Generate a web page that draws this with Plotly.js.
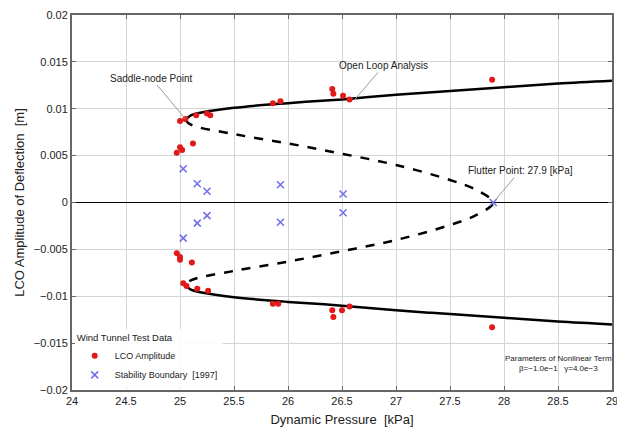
<!DOCTYPE html>
<html>
<head>
<meta charset="utf-8">
<script src="https://cdn.plot.ly/plotly-3.0.1.min.js"></script>
<style>html,body{margin:0;padding:0;background:#fff;}#chart{width:617px;height:428px;}</style>
</head>
<body>
<div id="chart"></div>
<script>
// Open loop analysis — stable LCO branch (solid), upper and lower
const stableQ = [25.05, 25.1, 25.2, 25.5, 26.0, 26.5, 27.0, 27.5, 28.0, 28.5, 29.0];
const stableUpper = [0.0088, 0.0093, 0.0096, 0.0101, 0.0106, 0.0110, 0.0115, 0.0119, 0.0123, 0.0127, 0.0130];
const stableLower = [-0.0088, -0.0093, -0.0096, -0.0101, -0.0106, -0.0110, -0.0115, -0.0119, -0.0123, -0.0127, -0.0130];
// Unstable branch (dashed), from upper saddle-node through flutter point to lower saddle-node
const unstableQ = [25.05, 25.1, 25.5, 26.0, 26.5, 27.0, 27.5, 27.75, 27.9, 27.75, 27.5, 27.0, 26.5, 26.0, 25.5, 25.1, 25.05];
const unstableA = [0.0088, 0.0083, 0.0073, 0.0063, 0.0052, 0.0040, 0.0024, 0.0013, 0.0, -0.0013, -0.0024, -0.0040, -0.0052, -0.0063, -0.0073, -0.0083, -0.0088];
// Wind tunnel test data: LCO amplitude
const lcoQ = [25.0, 25.05, 25.15, 25.25, 25.28, 24.97, 25.0, 25.02, 25.12, 25.86, 25.93, 26.41, 26.42, 26.51, 26.57, 27.89,
              24.97, 25.0, 25.0, 25.11, 25.03, 25.06, 25.16, 25.26, 25.86, 25.91, 26.41, 26.42, 26.5, 26.57, 27.89];
const lcoA = [0.0087, 0.0089, 0.0093, 0.0095, 0.0093, 0.0053, 0.0059, 0.0056, 0.0063, 0.0106, 0.0108, 0.0121, 0.0116, 0.0114, 0.0110, 0.0131,
              -0.0054, -0.0058, -0.0061, -0.0064, -0.0086, -0.0089, -0.0092, -0.0094, -0.0108, -0.0108, -0.0115, -0.0122, -0.0115, -0.0111, -0.0133];
// Wind tunnel test data: stability boundary [1997]
const stabQ = [25.03, 25.16, 25.25, 25.93, 26.51, 25.03, 25.16, 25.25, 25.93, 26.51, 27.9];
const stabA = [0.0036, 0.0020, 0.0012, 0.0019, 0.0009, -0.0038, -0.0022, -0.0014, -0.0021, -0.0011, 0.0];
// Axis ticks
const xTicks = [24, 24.5, 25, 25.5, 26, 26.5, 27, 27.5, 28, 28.5, 29];
const xTickText = ['24', '24.5', '25', '25.5', '26', '26.5', '27', '27.5', '28', '28.5', '29'];
const yTicks = [-0.02, -0.015, -0.01, -0.005, 0, 0.005, 0.01, 0.015, 0.02];
const yTickText = ['\u22120.02', '\u22120.015', '\u22120.01', '\u22120.005', '0', '0.005', '0.01', '0.015', '0.02'];

const FONT = 'Liberation Sans, Arial, sans-serif';

const traces = [
  {x: stableQ, y: stableUpper, mode: 'lines', line: {color: '#000', width: 2.5, shape: 'spline'}, showlegend: false, hoverinfo: 'skip'},
  {x: stableQ, y: stableLower, mode: 'lines', line: {color: '#000', width: 2.5, shape: 'spline'}, showlegend: false, hoverinfo: 'skip'},
  {x: unstableQ, y: unstableA, mode: 'lines', line: {color: '#000', width: 2.5, dash: 'dash', shape: 'spline'}, showlegend: false, hoverinfo: 'skip'},
  {x: lcoQ, y: lcoA, mode: 'markers', name: 'LCO Amplitude',
   marker: {color: 'rgb(225,25,25)', size: 6, symbol: 'circle'}},
  {x: stabQ, y: stabA, mode: 'markers', name: 'Stability Boundary  [1997]',
   marker: {color: 'rgba(0,0,0,0)', size: 7, symbol: 'x-thin', line: {color: 'rgb(110,110,235)', width: 1.5}}}
];

const layout = {
  width: 617, height: 428,
  margin: {l: 72, r: 5, t: 15, b: 38},
  paper_bgcolor: '#fff', plot_bgcolor: '#fff',
  font: {family: FONT, size: 11, color: '#222'},
  showlegend: true,
  legend: {
    x: 0.005, y: 0.0, xanchor: 'left', yanchor: 'bottom',
    bgcolor: 'rgba(255,255,255,0.9)',
    font: {family: FONT, size: 9, color: '#222'},
    title: {text: 'Wind Tunnel Test Data', font: {family: FONT, size: 9.5, color: '#222'}},
    tracegroupgap: 0, itemwidth: 30
  },
  xaxis: {
    range: [24, 29], tickvals: xTicks, ticktext: xTickText,
    showgrid: true, gridcolor: '#d4d4d4', gridwidth: 1,
    showline: true, mirror: 'ticks', linecolor: '#666', linewidth: 2,
    ticks: 'inside', ticklen: 4, tickcolor: '#666',
    zeroline: false, ticklabeloverflow: 'allow',
    tickfont: {family: FONT, size: 11, color: '#222'},
    title: {text: 'Dynamic Pressure  [kPa]', font: {family: FONT, size: 13, color: '#222'}, standoff: 9}
  },
  yaxis: {
    range: [-0.02, 0.02], tickvals: yTicks, ticktext: yTickText,
    showgrid: true, gridcolor: '#d4d4d4', gridwidth: 1,
    showline: true, mirror: 'ticks', linecolor: '#666', linewidth: 2,
    ticks: 'inside', ticklen: 4, tickcolor: '#666',
    zeroline: true, zerolinecolor: '#000', zerolinewidth: 1.5,
    tickfont: {family: FONT, size: 11, color: '#222'},
    title: {text: 'LCO Amplitude of Deflection  [m]', font: {family: FONT, size: 13, color: '#222'}, standoff: 6}
  },
  annotations: [
    {x: 25.05, y: 0.0089, xref: 'x', yref: 'y', text: 'Saddle-node Point', showarrow: true,
     arrowhead: 0, arrowwidth: 1, arrowcolor: '#999', ax: -34, ay: -41,
     font: {family: FONT, size: 10, color: '#222'}},
    {x: 26.62, y: 0.0110, xref: 'x', yref: 'y', text: 'Open Loop Analysis', showarrow: true,
     arrowhead: 0, arrowwidth: 1, arrowcolor: '#999', ax: 29, ay: -34,
     font: {family: FONT, size: 10, color: '#222'}},
    {x: 27.9, y: 0, xref: 'x', yref: 'y', text: 'Flutter Point: 27.9 [kPa]', showarrow: true,
     arrowhead: 0, arrowwidth: 1, arrowcolor: '#999', ax: 27, ay: -32,
     font: {family: FONT, size: 10, color: '#222'}},
    {x: 0.9, y: 0.04, xref: 'paper', yref: 'paper', xanchor: 'center', yanchor: 'bottom',
     text: 'Parameters of Nonlinear Term<br>\u03b2=\u22121.0e\u22121   \u03b3=4.0e\u22123', showarrow: false,
     font: {family: FONT, size: 8, color: '#222'}}
  ]
};

Plotly.newPlot('chart', traces, layout, {displayModeBar: false, staticPlot: true});
</script>
</body>
</html>
